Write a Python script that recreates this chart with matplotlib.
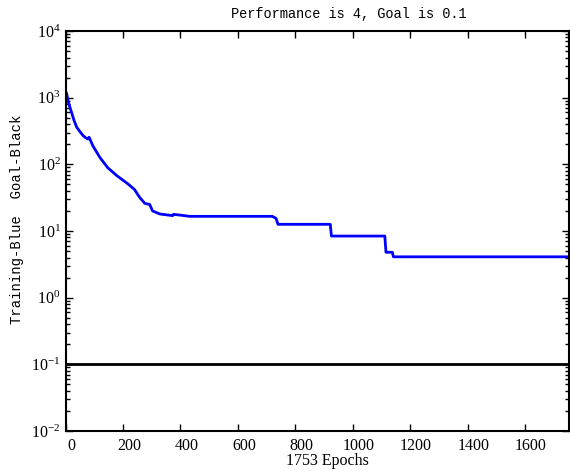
import matplotlib
matplotlib.use("Agg")
import matplotlib.pyplot as plt
import matplotlib.ticker as ticker
import matplotlib.transforms as mtransforms

# --- Training record ---
epochs = [0, 4, 10, 21, 30, 39, 50, 61, 70, 78, 82, 95, 120, 147, 178, 217,
          240, 258, 276, 293, 303, 328, 373, 376, 432, 720, 733, 740, 922,
          926, 1112, 1116, 1138, 1142, 1753]
perf = [1250, 1150, 850, 600, 450, 360, 310, 270, 250, 240, 255, 190, 126,
        89, 68, 51, 42, 32, 26, 25, 20, 18, 17.0, 17.8, 16.6, 16.6, 15.5,
        12.6, 12.6, 8.4, 8.4, 4.8, 4.8, 4.1, 4.1]
goal = 0.1
total_epochs = 1753
final_perf = 4
decades = [1e-2, 1e-1, 1e0, 1e1, 1e2, 1e3, 1e4]

plt.rcParams.update({"font.family": ["Liberation Serif", "DejaVu Serif"],
                     "mathtext.fontset": "custom",
                     "mathtext.rm": "Liberation Serif",
                     "font.size": 11.5})

fig = plt.figure(figsize=(5.7, 4.74), dpi=100)
ax = fig.add_axes([0.115, 0.0907, 0.883, 0.8439])

ax.plot(epochs, perf, color="blue", linewidth=2)
ax.axhline(goal, color="black", linewidth=2)

ax.set_yscale("log")
ax.set_xlim(0, total_epochs)
ax.set_ylim(decades[0], decades[-1])
ax.set_xticks(range(0, 1601, 200))
ax.set_yticks(decades)
minors = [d * k for d in decades[:-1] for k in range(2, 10)]
ax.set_yticks(minors, minor=True)
ax.yaxis.set_minor_formatter(ticker.NullFormatter())

ax.tick_params(which="both", direction="in", top=True, right=True)
ax.tick_params(which="major", length=5, width=1)
ax.tick_params(which="minor", length=3, width=1)
ax.tick_params(axis="x", pad=5)
for s in ax.spines.values():
    s.set_linewidth(1.5)

# tick labels sit a little right of their ticks, as in the original
shift = mtransforms.ScaledTranslation(6 / 100, 0, fig.dpi_scale_trans)
for lbl in ax.get_xticklabels():
    lbl.set_transform(lbl.get_transform() + shift)

mono = ["Liberation Mono", "DejaVu Sans Mono"]
ax.set_title("Performance is %d, Goal is %g" % (final_perf, goal), fontsize=9.8,
             family=mono, x=0.563, pad=9)
ax.set_xlabel("%d Epochs" % total_epochs, labelpad=2)
ax.xaxis.set_label_coords(0.52, -0.055)
ax.set_ylabel("Training-Blue  Goal-Black", fontsize=10, family=mono)
ax.yaxis.set_label_coords(-0.082, 0.53)

plt.savefig("out.png", dpi=100)
